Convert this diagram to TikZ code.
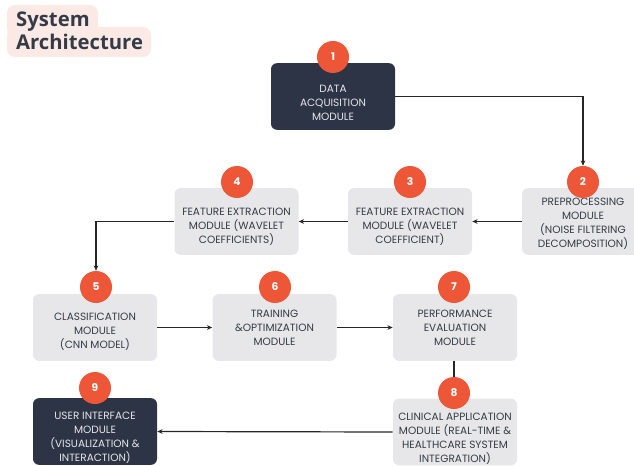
\documentclass[tikz,border=0pt]{standalone}
\usepackage{fontspec}
\setmainfont{Poppins}
\newfontfamily\titlefont{Open Sans}
\usetikzlibrary{arrows.meta}

\definecolor{darkbox}{HTML}{2D3446}
\definecolor{lightbox}{HTML}{E7E7E9}
\definecolor{badgered}{HTML}{EE5638}
\definecolor{titlepink}{HTML}{FBE9E5}
\definecolor{inktext}{HTML}{343B46}

\tikzset{
  module/.style={rounded corners=4.5pt, fill=lightbox, text=inktext, align=center,
    minimum width=93pt, minimum height=50pt, inner sep=1pt,
    font=\fontsize{7.9}{10.4}\selectfont},
  darkmodule/.style={module, fill=darkbox, text=white!88!darkbox},
  textdrop/.style={text depth=0pt, text height=#1},
  badge/.style={circle, fill=badgered, text=white, minimum size=24pt, inner sep=0pt,
    font=\fontsize{8}{9}\selectfont\bfseries},
  flow/.style={-{Stealth[length=4pt,width=3.5pt]}, line width=0.9pt, black!85},
}

\begin{document}
\begin{tikzpicture}[x=0.75pt, y=-0.75pt]
  \useasboundingbox (0,0) rectangle (634,466);

  % title
  \fill[titlepink, rounded corners=6pt] (7,5) rectangle (98,36);
  \fill[titlepink, rounded corners=6pt] (7,27) rectangle (151,57);
  \node[anchor=west, align=left, text=inktext, font=\titlefont\fontsize{15.2}{17.5}\selectfont\bfseries] (title) at (11.5,31) {System\\Architecture};

  % modules
  \node[darkmodule, textdrop=36pt] (acq) at (333,96.5) {DATA\\ACQUISITION\\MODULE};
  \node[module, minimum width=91.5pt, textdrop=38.5pt] (prep) at (583,221.5) {PREPROCESSING\\MODULE\\(NOISE FILTERING\\DECOMPOSITION)};
  \node[module, textdrop=33pt] (featB) at (410,221.5) {FEATURE EXTRACTION\\MODULE (WAVELET\\COEFFICIENT)};
  \node[module, textdrop=33pt] (featA) at (236.5,221.5) {FEATURE EXTRACTION\\MODULE (WAVELET\\COEFFICIENTS)};
  \node[module, textdrop=31.5pt] (cls) at (95,327.5) {CLASSIFICATION\\MODULE\\(CNN MODEL)};
  \node[module] (train) at (274.5,327.5) {TRAINING\\\&OPTIMIZATION\\MODULE};
  \node[module] (perf) at (455,327.5) {PERFORMANCE\\EVALUATION\\MODULE};
  \node[darkmodule, textdrop=45pt] (ui) at (95,431.5) {USER INTERFACE\\MODULE\\(VISUALIZATION \&\\INTERACTION)};
  \node[module, textdrop=45pt] (clin) at (455,432) {CLINICAL APPLICATION\\MODULE (REAL-TIME \&\\HEALTHCARE SYSTEM\\INTEGRATION)};

  % numbered badges
  \node[badge] (b1) at (333,57) {1};
  \node[badge] (b2) at (583,182) {2};
  \node[badge] (b3) at (410,182) {3};
  \node[badge] (b4) at (237,182) {4};
  \node[badge] (b5) at (96,287) {5};
  \node[badge] (b6) at (275,287) {6};
  \node[badge] (b7) at (454,287) {7};
  \node[badge] (b8) at (454,393) {8};
  \node[badge] (b9) at (95,388) {9};

  % connectors
  \draw[flow] (acq.east) -| (b2.north);
  \draw[flow] (prep.west) -- (featB.east);
  \draw[flow] (featB.west) -- (featA.east);
  \draw[flow] (featA.west) -| (b5.north);
  \draw[flow] (cls.east) -- (train.west);
  \draw[flow] (train.east) -- (perf.west);
  \draw[line width=0.9pt, black!85] (perf.south -| b7) -- (b8.north);
  \draw[flow] (clin.west) -- (ui.east);
\end{tikzpicture}
\end{document}
